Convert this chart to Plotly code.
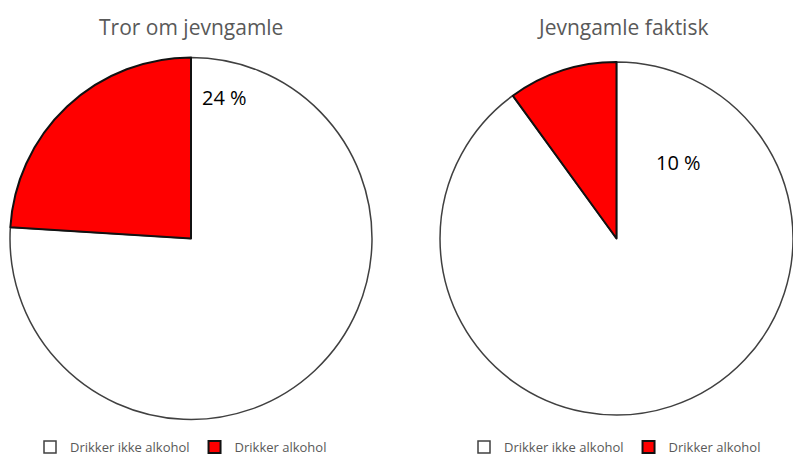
import plotly.graph_objects as go

W, H = 793, 455

labels = ["Drikker ikke alkohol", "Drikker alkohol"]
colors = ["#FFFFFF", "#FF0000"]
titles = ["Tror om jevngamle", "Jevngamle faktisk"]
believed = [76, 24]
actual = [90, 10]
label_texts = ["24 %", "10 %"]

def px_x(v):
    return v / W

def px_y(v):
    return 1 - v / H

fig = go.Figure()

def pie_kwargs(lbls):
    return dict(
        labels=lbls,
        sort=False,
        direction="clockwise",
        rotation=0,
        textinfo="none",
        hoverinfo="label+percent",
        marker=dict(colors=colors, line=dict(color=["#404040", "#111111"], width=[1.5, 2])),
    )

fig.add_trace(go.Pie(
    values=believed,
    domain=dict(x=[px_x(10), px_x(372)], y=[px_y(420), px_y(57)]),
    legend="legend",
    **pie_kwargs(labels),
))
# zero-width space keeps the second pie's legend entries separate from the first
fig.add_trace(go.Pie(
    values=actual,
    domain=dict(x=[px_x(440), px_x(793)], y=[px_y(420), px_y(57)]),
    legend="legend2",
    **pie_kwargs([l + "\u200b" for l in labels]),
))

title_font = dict(family="Open Sans", size=21, color="#595959")
lab_font = dict(family="Open Sans", size=20, color="#000000")

annotations = [
    dict(text=titles[0], x=px_x(191), y=px_y(27), xref="paper", yref="paper",
         showarrow=False, font=title_font, xanchor="center", yanchor="middle"),
    dict(text=titles[1], x=px_x(622), y=px_y(27), xref="paper", yref="paper",
         showarrow=False, font=title_font, xanchor="center", yanchor="middle"),
    dict(text=label_texts[0], x=px_x(224), y=px_y(97), xref="paper", yref="paper",
         showarrow=False, font=lab_font, xanchor="center", yanchor="middle"),
    dict(text=label_texts[1], x=px_x(678), y=px_y(162), xref="paper", yref="paper",
         showarrow=False, font=lab_font, xanchor="center", yanchor="middle"),
]

leg_font = dict(family="Open Sans", size=13, color="#595959")
fig.update_layout(
    width=W, height=H,
    margin=dict(l=0, r=0, t=0, b=0, autoexpand=False),
    paper_bgcolor="white",
    plot_bgcolor="white",
    annotations=annotations,
    showlegend=True,
    legend=dict(orientation="h", x=px_x(30), y=px_y(447), xanchor="left", yanchor="middle",
                font=leg_font, itemwidth=30, bgcolor="rgba(0,0,0,0)"),
    legend2=dict(orientation="h", x=px_x(464), y=px_y(447), xanchor="left", yanchor="middle",
                 font=leg_font, itemwidth=30, bgcolor="rgba(0,0,0,0)"),
)

fig.write_html("out.html", config={"displayModeBar": False},
               post_script="document.body.style.margin='0';")
